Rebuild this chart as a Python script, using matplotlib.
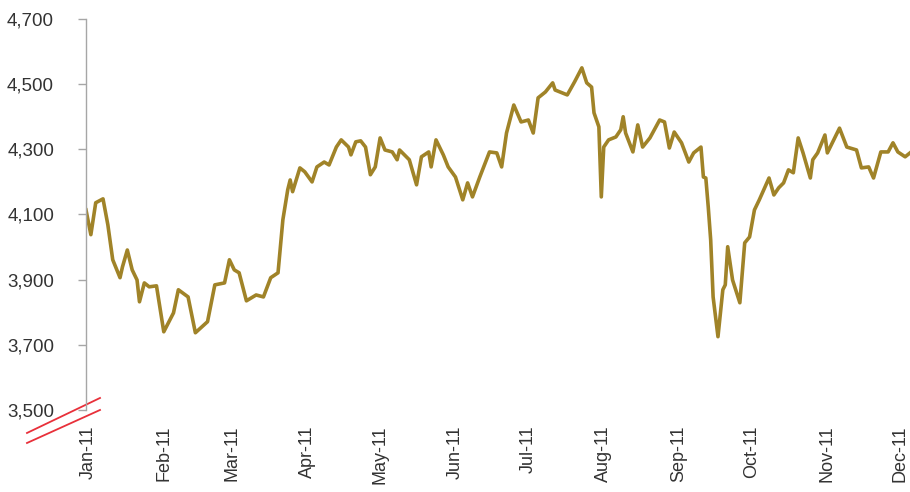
import datetime as dt
import matplotlib
matplotlib.use("Agg")
import matplotlib.pyplot as plt
import matplotlib.dates as mdates

# index level (date, value)
dates = [
    "2010-12-31", "2011-01-02", "2011-01-04", "2011-01-07", "2011-01-09", "2011-01-11",
    "2011-01-14", "2011-01-15", "2011-01-17", "2011-01-19", "2011-01-21", "2011-01-22",
    "2011-01-24", "2011-01-26", "2011-01-29", "2011-02-01", "2011-02-05", "2011-02-07",
    "2011-02-11", "2011-02-14", "2011-02-19", "2011-02-22", "2011-02-26", "2011-02-28",
    "2011-03-02", "2011-03-04", "2011-03-07", "2011-03-11", "2011-03-14", "2011-03-17",
    "2011-03-20", "2011-03-22", "2011-03-24", "2011-03-25", "2011-03-26", "2011-03-29",
    "2011-03-31", "2011-04-03", "2011-04-05", "2011-04-08", "2011-04-10", "2011-04-13",
    "2011-04-15", "2011-04-18", "2011-04-19", "2011-04-21", "2011-04-23", "2011-04-25",
    "2011-04-27", "2011-04-29", "2011-05-01", "2011-05-03", "2011-05-06", "2011-05-08",
    "2011-05-09", "2011-05-13", "2011-05-16", "2011-05-18", "2011-05-21", "2011-05-22",
    "2011-05-24", "2011-05-27", "2011-05-29", "2011-06-01", "2011-06-04", "2011-06-06",
    "2011-06-08", "2011-06-11", "2011-06-15", "2011-06-18", "2011-06-20", "2011-06-22",
    "2011-06-25", "2011-06-28", "2011-07-01", "2011-07-03", "2011-07-05", "2011-07-08",
    "2011-07-11", "2011-07-12", "2011-07-14", "2011-07-17", "2011-07-20", "2011-07-23",
    "2011-07-25", "2011-07-27", "2011-07-28", "2011-07-30", "2011-07-31", "2011-08-01",
    "2011-08-03", "2011-08-06", "2011-08-08", "2011-08-09", "2011-08-10", "2011-08-13",
    "2011-08-15", "2011-08-17", "2011-08-20", "2011-08-24", "2011-08-26", "2011-08-28",
    "2011-08-30", "2011-09-02", "2011-09-05", "2011-09-07", "2011-09-10", "2011-09-11",
    "2011-09-12", "2011-09-13", "2011-09-14", "2011-09-15", "2011-09-17", "2011-09-19",
    "2011-09-20", "2011-09-21", "2011-09-23", "2011-09-26", "2011-09-28", "2011-09-30",
    "2011-10-02", "2011-10-04", "2011-10-08", "2011-10-10", "2011-10-12", "2011-10-14",
    "2011-10-16", "2011-10-18", "2011-10-20", "2011-10-22", "2011-10-25", "2011-10-26",
    "2011-10-28", "2011-10-31", "2011-11-01", "2011-11-06", "2011-11-09", "2011-11-13",
    "2011-11-15", "2011-11-18", "2011-11-20", "2011-11-23", "2011-11-26", "2011-11-28",
    "2011-11-30", "2011-12-03", "2011-12-05",
]
values = [
    4114, 4038, 4136, 4148, 4068, 3961,
    3906, 3939, 3991, 3930, 3899, 3832,
    3890, 3878, 3881, 3740, 3798, 3869,
    3847, 3737, 3771, 3884, 3890, 3961,
    3930, 3921, 3835, 3853, 3847, 3906,
    3921, 4084, 4176, 4206, 4170, 4243,
    4231, 4200, 4246, 4261, 4252, 4307,
    4329, 4307, 4283, 4323, 4326, 4307,
    4222, 4246, 4335, 4298, 4292, 4268,
    4298, 4268, 4191, 4277, 4292, 4246,
    4329, 4283, 4246, 4215, 4145, 4197,
    4154, 4215, 4292, 4289, 4246, 4350,
    4436, 4384, 4390, 4350, 4458, 4476,
    4504, 4482, 4476, 4467, 4507, 4550,
    4504, 4491, 4412, 4369, 4154, 4307,
    4329, 4338, 4360, 4400, 4350, 4292,
    4375, 4307, 4335, 4390, 4384, 4304,
    4353, 4320, 4261, 4289, 4307, 4215,
    4212, 4123, 4022, 3847, 3725, 3869,
    3884, 4001, 3899, 3829, 4013, 4031,
    4114, 4145, 4212, 4160, 4182, 4197,
    4237, 4228, 4335, 4289, 4212, 4268,
    4289, 4344, 4289, 4365, 4307, 4298,
    4243, 4246, 4212, 4292, 4292, 4320,
    4292, 4277, 4289,
]
month_ticks = ["2011-%02d-01" % m for m in range(1, 13)]
y_ticks = [3500, 3700, 3900, 4100, 4300, 4500, 4700]

x = [dt.datetime.strptime(d, "%Y-%m-%d") for d in dates]
xt = [dt.datetime.strptime(d, "%Y-%m-%d") for d in month_ticks]

plt.rcParams["font.family"] = ["Liberation Sans", "DejaVu Sans"]

fig = plt.figure(figsize=(9.1, 4.92), dpi=100)
ax = fig.add_axes([0.0945, 0.1667, 0.9055, 0.7947])

ax.plot(x, values, color="#A08328", lw=2.6, solid_joinstyle="round")

ax.set_ylim(3500, 4700)
ax.set_xlim(dt.datetime(2010, 12, 31), dt.datetime(2011, 12, 5))
ax.set_yticks(y_ticks)
ax.set_yticklabels(["{:,}".format(v) for v in y_ticks])
ax.set_xticks(xt)
ax.xaxis.set_major_formatter(mdates.DateFormatter("%b-%y"))

for s in ["top", "right", "bottom"]:
    ax.spines[s].set_visible(False)
ax.spines["left"].set_color("#A6A6A6")
ax.spines["left"].set_linewidth(1.0)

ax.tick_params(axis="y", colors="#A6A6A6", length=6, width=1, pad=17,
               labelsize=13.5, labelcolor="#333333")
ax.tick_params(axis="x", length=0, pad=11, labelsize=13,
               labelcolor="#333333", labelrotation=90)

# axis break marks
for y0, y1 in ((-0.0588, 0.0307), (-0.0844, 0.0)):
    ax.plot([-0.0716, 0.017], [y0, y1], transform=ax.transAxes,
            color="#E8303A", lw=1.3, clip_on=False)

fig.savefig("out.png", dpi=100)
